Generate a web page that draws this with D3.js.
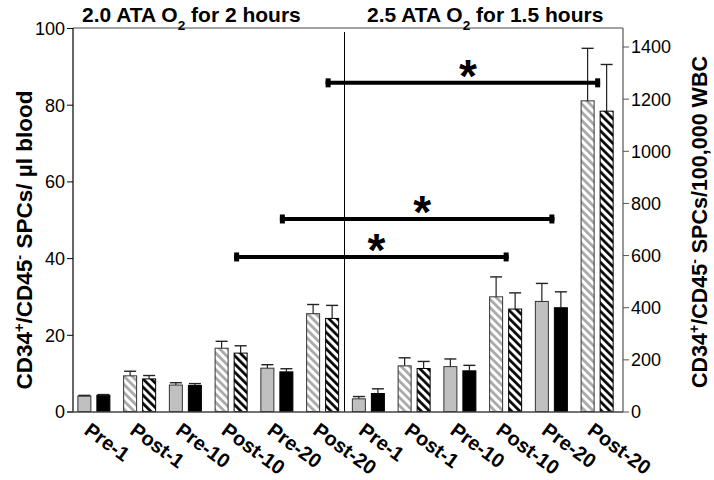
<!DOCTYPE html>
<html>
<head>
<meta charset="utf-8">
<script src="https://cdn.jsdelivr.net/npm/d3@7"></script>
<style>
  html, body { margin: 0; padding: 0; background: #fff; }
  svg { display: block; }
  text { font-family: "Liberation Sans", Arial, Helvetica, sans-serif; fill: #000; }
</style>
</head>
<body>
<svg id="chart" width="714" height="480"></svg>
<script>
// ---------- data ----------
const categories = ["Pre-1","Post-1","Pre-10","Post-10","Pre-20","Post-20",
                    "Pre-1","Post-1","Pre-10","Post-10","Pre-20","Post-20"];
// SPCs per µl blood (left axis)
const perUlValues = [4.0, 9.3, 6.9, 16.5, 11.3, 25.5, 3.3, 11.9, 11.7, 29.9, 28.7, 81.0];
const perUlErrors = [0.2, 1.2, 0.6, 1.8, 0.9, 2.4, 0.6, 2.1, 2.0, 5.2, 4.7, 13.7];
// SPCs per 100,000 WBC (right axis)
const perWbcValues = [62, 125, 100, 224, 152, 357, 69, 165, 156, 393, 398, 1152];
const perWbcErrors = [3, 13, 7, 28, 12, 50, 18, 27, 21, 62, 61, 179];
const leftTicks = [0, 20, 40, 60, 80, 100];
const rightTicks = [0, 200, 400, 600, 800, 1000, 1200, 1400];
const groupTitles = [["2.0 ATA O", "2", " for 2 hours"], ["2.5 ATA O", "2", " for 1.5 hours"]];
const leftLabel = ["CD34", "+", "/CD45", "-", " SPCs/ µl blood"];
const rightLabel = ["CD34", "+", "/CD45", "-", " SPCs/100,000 WBC"];
// significance brackets (category indices, level in left-axis units)
const sigFrom = [5, 4, 3];
const sigTo = [11, 10, 9];
const sigLevel = [85.7, 50.2, 40.3];

// ---------- layout ----------
const svg = d3.select("#chart");
const plot = { left: 73, right: 623, top: 28, bottom: 412 };
const font = '"Liberation Sans", Arial, Helvetica, sans-serif';

const idx = d3.range(categories.length);
const x = d3.scaleBand().domain(idx).range([71, 620]).paddingInner(0.3).paddingOuter(0.15);
const xSub = d3.scaleBand().domain(["ul", "wbc"]).range([0, x.bandwidth()]).paddingInner(0.316);
const yL = d3.scaleLinear().domain([0, 100]).range([411.5, 28]);
const yR = d3.scaleLinear().domain([0, 1400]).range([411.5, 46.5]);

// ---------- patterns ----------
const defs = svg.append("defs");
function hatch(id, color) {
  const p = defs.append("pattern").attr("id", id)
    .attr("patternUnits", "userSpaceOnUse").attr("width", 5.8).attr("height", 5.8)
    .attr("patternTransform", "rotate(-45)");
  p.append("rect").attr("width", 5.8).attr("height", 5.8).attr("fill", "#fff");
  p.append("line").attr("x1", 1.4).attr("y1", -1).attr("x2", 1.4).attr("y2", 7)
    .attr("stroke", color).attr("stroke-width", 2.7);
}
hatch("hatchGray", "#a6a6a6");
hatch("hatchBlack", "#000");

// ---------- frame ----------
svg.append("line").attr("x1", plot.left).attr("x2", plot.right).attr("y1", plot.top).attr("y2", plot.top)
  .attr("stroke", "#444").attr("stroke-width", 1);
svg.append("line").attr("x1", plot.left).attr("x2", plot.left).attr("y1", plot.top).attr("y2", plot.bottom)
  .attr("stroke", "#000").attr("stroke-width", 1.2);
svg.append("line").attr("x1", plot.right).attr("x2", plot.right).attr("y1", plot.top).attr("y2", plot.bottom)
  .attr("stroke", "#555").attr("stroke-width", 1.2);

// divider between the two protocols
const divX = x(6) - (x.step() - x.bandwidth()) / 2 - 1;
svg.append("line").attr("x1", divX).attr("x2", divX).attr("y1", 32).attr("y2", plot.bottom)
  .attr("stroke", "#000").attr("stroke-width", 1);

// ---------- axes ----------
const gL = svg.append("g").attr("transform", `translate(${plot.left},0)`)
  .call(d3.axisLeft(yL).tickValues(leftTicks).tickFormat(d3.format("d")).tickSize(6).tickSizeOuter(0).tickPadding(2));
gL.select(".domain").remove();
gL.selectAll("text").attr("font-size", 18).attr("font-family", font).attr("dy", "0.36em");
gL.selectAll("line").attr("stroke", "#000");

const gR = svg.append("g").attr("transform", `translate(${plot.right},0)`)
  .call(d3.axisRight(yR).tickValues(rightTicks).tickFormat(d3.format("d")).tickSize(6).tickSizeOuter(0).tickPadding(2));
gR.select(".domain").remove();
gR.selectAll("text").attr("font-size", 18).attr("font-family", font).attr("dy", "0.36em");
gR.selectAll("line").attr("stroke", "#555");

// ---------- bars ----------
const isPost = i => categories[i].startsWith("Post");
const bars = svg.append("g");
const errs = svg.append("g");
idx.forEach(i => {
  const gx = x(i);
  const x0 = gx + xSub("ul"), w = xSub.bandwidth();
  bars.append("rect").attr("x", x0).attr("y", yL(perUlValues[i]))
    .attr("width", w).attr("height", yL(0) - yL(perUlValues[i]))
    .attr("fill", isPost(i) ? "url(#hatchGray)" : "#c0c0c0")
    .attr("stroke", "#333").attr("stroke-width", 1);
  const x1 = gx + xSub("wbc");
  bars.append("rect").attr("x", x1).attr("y", yR(perWbcValues[i]))
    .attr("width", w).attr("height", yR(0) - yR(perWbcValues[i]))
    .attr("fill", isPost(i) ? "url(#hatchBlack)" : "#000")
    .attr("stroke", "#000").attr("stroke-width", 1);
  [[x0 + w / 2, yL(perUlValues[i]), yL(perUlValues[i] + perUlErrors[i])],
   [x1 + w / 2, yR(perWbcValues[i]), yR(perWbcValues[i] + perWbcErrors[i])]].forEach(([cx, yb, yt]) => {
    errs.append("line").attr("x1", cx).attr("x2", cx).attr("y1", yb).attr("y2", yt)
      .attr("stroke", "#222").attr("stroke-width", 1.2);
    errs.append("line").attr("x1", cx - 6).attr("x2", cx + 6).attr("y1", yt).attr("y2", yt)
      .attr("stroke", "#222").attr("stroke-width", 1.4);
  });
});

// baseline
svg.append("line").attr("x1", plot.left - 6).attr("x2", plot.right).attr("y1", plot.bottom).attr("y2", plot.bottom)
  .attr("stroke", "#444").attr("stroke-width", 1.4);

// ---------- x labels ----------
svg.append("g").selectAll("text").data(idx).join("text")
  .attr("transform", i => `translate(${x(i) + x.bandwidth() / 2 - 11},433) rotate(36)`)
  .attr("font-size", 20).attr("font-weight", "bold").attr("font-family", font)
  .text(i => categories[i]);

// ---------- significance brackets ----------
sigFrom.forEach((f, k) => {
  const xa = x(f) + xSub("wbc");
  const xb = x(sigTo[k]) + xSub("wbc");
  const yy = yL(sigLevel[k]);
  svg.append("line").attr("x1", xa).attr("x2", xb).attr("y1", yy).attr("y2", yy)
    .attr("stroke", "#000").attr("stroke-width", 4);
  [xa, xb - 5].forEach(cx => svg.append("rect").attr("x", cx).attr("y", yy - 4.5)
    .attr("width", 5).attr("height", 9).attr("fill", "#000"));
  svg.append("text").attr("x", (xa + xb) / 2 + 5).attr("y", yy + 9)
    .attr("text-anchor", "middle").attr("font-size", 46).attr("font-weight", "bold")
    .attr("font-family", font).text("*");
});

// ---------- titles ----------
function richText(sel, parts, supMode) {
  parts.forEach((p, j) => {
    const t = sel.append("tspan").text(p);
    if (j % 2 === 1) {
      t.attr("font-size", "65%").attr("baseline-shift", supMode ? "super" : "sub");
    }
  });
}
const titleX = [82, 367];
groupTitles.forEach((parts, k) => {
  const t = svg.append("text").attr("x", titleX[k]).attr("y", 22)
    .attr("font-size", 21).attr("font-weight", "bold").attr("font-family", font);
  richText(t, parts, false);
});

const tl = svg.append("text").attr("transform", "translate(32,240) rotate(-90)")
  .attr("text-anchor", "middle").attr("font-size", 22.5).attr("font-weight", "bold").attr("font-family", font);
richText(tl, leftLabel, true);
const tr = svg.append("text").attr("transform", "translate(707,222) rotate(-90)")
  .attr("text-anchor", "middle").attr("font-size", 21.5).attr("font-weight", "bold").attr("font-family", font);
richText(tr, rightLabel, true);
</script>
</body>
</html>
